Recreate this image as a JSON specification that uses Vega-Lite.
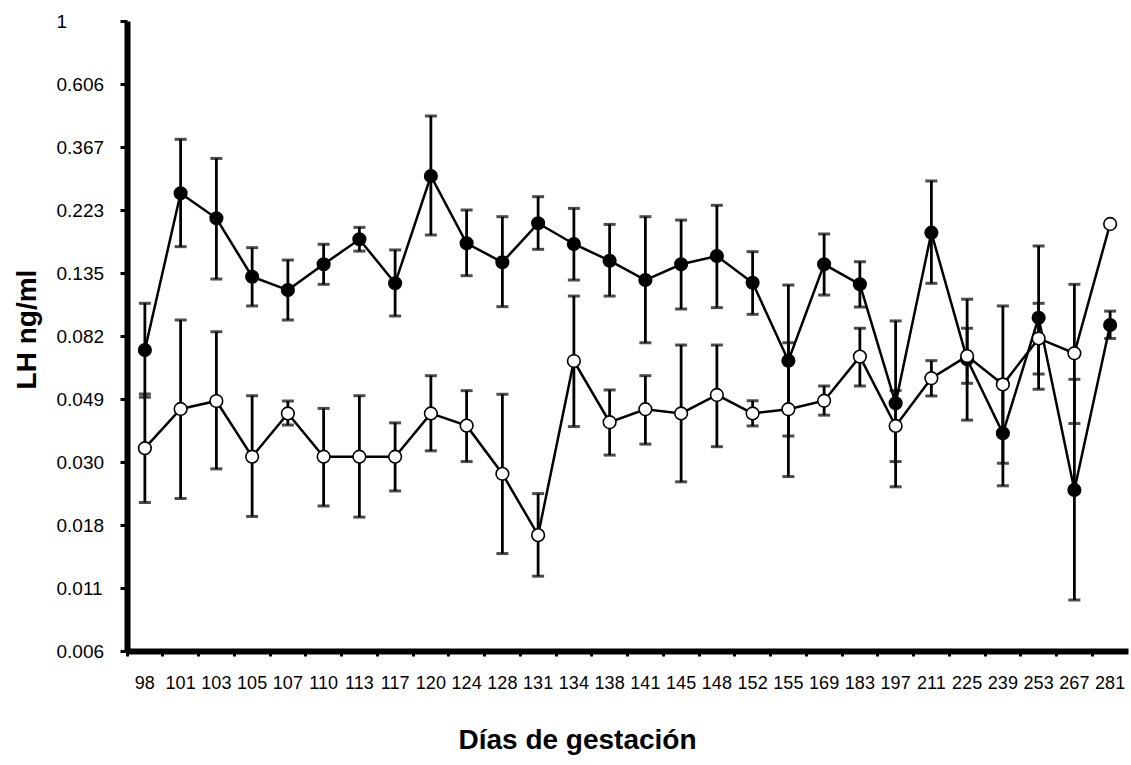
{
  "$schema": "https://vega.github.io/schema/vega-lite/v6.json",
  "width": 1001,
  "height": 630,
  "autosize": "none",
  "padding": {"left": 127, "top": 21, "right": 3, "bottom": 114},
  "background": "white",
  "config": {
    "font": "Liberation Sans",
    "view": {"stroke": null}
  },
  "data": {
    "values": [
      {"day": 98, "group": "F", "v": 0.0734, "lo": 0.0505, "hi": 0.1064},
      {"day": 101, "group": "F", "v": 0.2547, "lo": 0.1668, "hi": 0.391},
      {"day": 103, "group": "F", "v": 0.2089, "lo": 0.129, "hi": 0.336},
      {"day": 105, "group": "F", "v": 0.1314, "lo": 0.1042, "hi": 0.1655},
      {"day": 107, "group": "F", "v": 0.1182, "lo": 0.0932, "hi": 0.150},
      {"day": 110, "group": "F", "v": 0.145, "lo": 0.1237, "hi": 0.170},
      {"day": 113, "group": "F", "v": 0.1768, "lo": 0.161, "hi": 0.1944},
      {"day": 117, "group": "F", "v": 0.1247, "lo": 0.0962, "hi": 0.1625},
      {"day": 120, "group": "F", "v": 0.2922, "lo": 0.183, "hi": 0.4705},
      {"day": 124, "group": "F", "v": 0.1713, "lo": 0.1325, "hi": 0.2231},
      {"day": 128, "group": "F", "v": 0.1474, "lo": 0.1036, "hi": 0.2116},
      {"day": 131, "group": "F", "v": 0.2008, "lo": 0.1633, "hi": 0.248},
      {"day": 134, "group": "F", "v": 0.1704, "lo": 0.128, "hi": 0.226},
      {"day": 138, "group": "F", "v": 0.1492, "lo": 0.1127, "hi": 0.199},
      {"day": 141, "group": "F", "v": 0.128, "lo": 0.0778, "hi": 0.2116},
      {"day": 145, "group": "F", "v": 0.145, "lo": 0.1017, "hi": 0.206},
      {"day": 148, "group": "F", "v": 0.1549, "lo": 0.1028, "hi": 0.2316},
      {"day": 152, "group": "F", "v": 0.1253, "lo": 0.0975, "hi": 0.1603},
      {"day": 155, "group": "F", "v": 0.0675, "lo": 0.0371, "hi": 0.123},
      {"day": 169, "group": "F", "v": 0.145, "lo": 0.1136, "hi": 0.1845},
      {"day": 183, "group": "F", "v": 0.1237, "lo": 0.1033, "hi": 0.148},
      {"day": 197, "group": "F", "v": 0.0481, "lo": 0.0248, "hi": 0.0925},
      {"day": 211, "group": "F", "v": 0.1864, "lo": 0.1247, "hi": 0.281},
      {"day": 225, "group": "F", "v": 0.0682, "lo": 0.0421, "hi": 0.1099},
      {"day": 239, "group": "F", "v": 0.0379, "lo": 0.0250, "hi": 0.058},
      {"day": 253, "group": "F", "v": 0.0949, "lo": 0.0538, "hi": 0.1677},
      {"day": 267, "group": "F", "v": 0.0242, "lo": 0.0101, "hi": 0.0582},
      {"day": 281, "group": "F", "v": 0.0896, "lo": 0.0805, "hi": 0.100},
      {"day": 98, "group": "O", "v": 0.0337, "lo": 0.0219, "hi": 0.0518},
      {"day": 101, "group": "O", "v": 0.0460, "lo": 0.0226, "hi": 0.0932},
      {"day": 103, "group": "O", "v": 0.0490, "lo": 0.0286, "hi": 0.0849},
      {"day": 105, "group": "O", "v": 0.0315, "lo": 0.0196, "hi": 0.0511},
      {"day": 107, "group": "O", "v": 0.0444, "lo": 0.0405, "hi": 0.049},
      {"day": 110, "group": "O", "v": 0.0315, "lo": 0.0213, "hi": 0.0462},
      {"day": 113, "group": "O", "v": 0.0315, "lo": 0.0195, "hi": 0.0511},
      {"day": 117, "group": "O", "v": 0.0315, "lo": 0.0240, "hi": 0.0412},
      {"day": 120, "group": "O", "v": 0.0444, "lo": 0.0330, "hi": 0.0599},
      {"day": 124, "group": "O", "v": 0.0403, "lo": 0.0303, "hi": 0.0532},
      {"day": 128, "group": "O", "v": 0.0275, "lo": 0.0146, "hi": 0.0517},
      {"day": 131, "group": "O", "v": 0.0169, "lo": 0.0122, "hi": 0.0235},
      {"day": 134, "group": "O", "v": 0.0673, "lo": 0.0400, "hi": 0.1127},
      {"day": 138, "group": "O", "v": 0.0414, "lo": 0.0319, "hi": 0.0535},
      {"day": 141, "group": "O", "v": 0.0459, "lo": 0.0348, "hi": 0.0599},
      {"day": 145, "group": "O", "v": 0.0444, "lo": 0.0258, "hi": 0.0764},
      {"day": 148, "group": "O", "v": 0.0514, "lo": 0.0341, "hi": 0.0764},
      {"day": 152, "group": "O", "v": 0.0444, "lo": 0.0402, "hi": 0.0491},
      {"day": 155, "group": "O", "v": 0.0459, "lo": 0.0269, "hi": 0.0778},
      {"day": 169, "group": "O", "v": 0.0491, "lo": 0.0438, "hi": 0.0552},
      {"day": 183, "group": "O", "v": 0.0697, "lo": 0.0552, "hi": 0.0873},
      {"day": 197, "group": "O", "v": 0.0402, "lo": 0.0303, "hi": 0.0532},
      {"day": 211, "group": "O", "v": 0.0587, "lo": 0.0510, "hi": 0.0675},
      {"day": 225, "group": "O", "v": 0.070, "lo": 0.0564, "hi": 0.0873},
      {"day": 239, "group": "O", "v": 0.0559, "lo": 0.0299, "hi": 0.1042},
      {"day": 253, "group": "O", "v": 0.0805, "lo": 0.0607, "hi": 0.1064},
      {"day": 267, "group": "O", "v": 0.0716, "lo": 0.0410, "hi": 0.1237},
      {"day": 281, "group": "O", "v": 0.1997, "lo": null, "hi": null}
    ]
  },
  "encoding": {
    "x": {
      "field": "day",
      "type": "ordinal",
      "scale": {"paddingInner": 0, "paddingOuter": 0},
      "axis": {
        "title": "Días de gestación",
        "titleFontSize": 28,
        "titleFontWeight": "bold",
        "titleColor": "black",
        "titlePadding": 34,
        "titleX": 450,
        "labelAngle": 0,
        "labelFontSize": 18,
        "labelColor": "black",
        "labelPadding": 18,
        "bandPosition": 0,
        "domainColor": "black",
        "domainWidth": 6,
        "tickColor": "black",
        "tickWidth": 3,
        "tickSize": 5
      }
    }
  },
  "layer": [
    {
      "transform": [{"filter": "datum.lo != null"}],
      "mark": {"type": "rule", "color": "black", "strokeWidth": 2.8},
      "encoding": {
        "y": {
          "field": "lo",
          "type": "quantitative",
          "scale": {"type": "log", "base": 2.718281828459045, "domain": [0.006737946999085467, 1], "nice": false},
          "axis": {
            "title": "LH ng/ml",
            "titleFontSize": 28,
            "titleFontWeight": "bold",
            "titleColor": "black",
            "titlePadding": 15,
            "titleY": 308,
            "values": [0.006737946999085467, 0.011108996538242306, 0.01831563888873418, 0.0301973834223185, 0.049787068367863944, 0.0820849986238988, 0.1353352832366127, 0.22313016014842982, 0.36787944117144233, 0.6065306597126334, 1],
            "labelExpr": "datum.value > 0.99 ? '1' : format(floor(datum.value * 1000 + 0.000001) / 1000, '.3f')",
            "labelFontSize": 19,
            "labelColor": "black",
            "labelAlign": "left",
            "labelPadding": 64,
            "domainColor": "black",
            "domainWidth": 6,
            "tickColor": "black",
            "tickWidth": 3,
            "tickSize": 7,
            "grid": false
          }
        },
        "y2": {"field": "hi"}
      }
    },
    {
      "transform": [{"filter": "datum.lo != null"}],
      "mark": {"type": "tick", "color": "black", "size": 12, "thickness": 3},
      "encoding": {"y": {"field": "lo", "type": "quantitative"}}
    },
    {
      "transform": [{"filter": "datum.hi != null"}],
      "mark": {"type": "tick", "color": "black", "size": 12, "thickness": 3},
      "encoding": {"y": {"field": "hi", "type": "quantitative"}}
    },
    {
      "transform": [{"filter": "datum.group == 'F'"}],
      "mark": {"type": "line", "color": "black", "strokeWidth": 2.5},
      "encoding": {"y": {"field": "v", "type": "quantitative"}}
    },
    {
      "transform": [{"filter": "datum.group == 'F'"}],
      "mark": {"type": "point", "shape": "circle", "filled": true, "color": "black", "opacity": 1, "size": 200},
      "encoding": {"y": {"field": "v", "type": "quantitative"}}
    },
    {
      "transform": [{"filter": "datum.group == 'O'"}],
      "mark": {"type": "line", "color": "black", "strokeWidth": 2.5},
      "encoding": {"y": {"field": "v", "type": "quantitative"}}
    },
    {
      "transform": [{"filter": "datum.group == 'O'"}],
      "mark": {"type": "point", "shape": "circle", "filled": true, "fill": "white", "stroke": "black", "strokeWidth": 1.6, "opacity": 1, "size": 160},
      "encoding": {"y": {"field": "v", "type": "quantitative"}}
    }
  ]
}
